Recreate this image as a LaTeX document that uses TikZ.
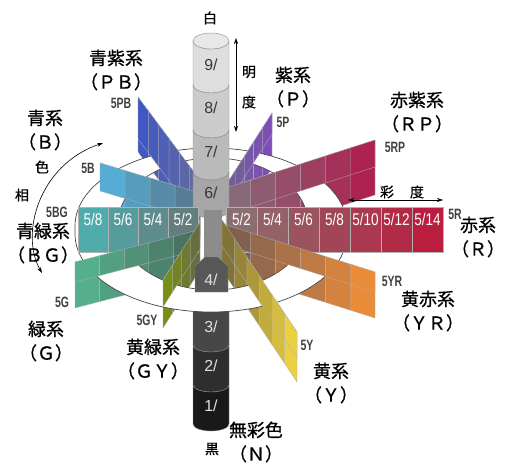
\documentclass[tikz,border=0pt]{standalone}
\usepackage{fontspec}
\usepackage{graphicx}
\setmainfont{Liberation Sans}
\newfontfamily\jpfont{Noto Sans CJK JP}[FakeBold=0.8]
\usetikzlibrary{arrows.meta, calc}
\definecolor{nearP}{RGB}{112,98,150}
\definecolor{farP}{RGB}{125,78,185}
\definecolor{nearPB}{RGB}{98,106,158}
\definecolor{farPB}{RGB}{65,88,196}
\definecolor{nearRP}{RGB}{135,105,120}
\definecolor{farRP}{RGB}{172,35,82}
\definecolor{nearB}{RGB}{88,124,148}
\definecolor{farB}{RGB}{85,172,212}
\definecolor{nearBG}{RGB}{100,125,125}
\definecolor{farBG}{RGB}{80,172,172}
\definecolor{nearG}{RGB}{75,115,100}
\definecolor{farG}{RGB}{85,175,140}
\definecolor{nearGY}{RGB}{105,110,65}
\definecolor{farGY}{RGB}{120,142,20}
\definecolor{nearY}{RGB}{130,115,55}
\definecolor{farY}{RGB}{235,208,65}
\definecolor{nearYR}{RGB}{130,95,80}
\definecolor{farYR}{RGB}{232,140,58}
\definecolor{nearR}{RGB}{140,110,112}
\definecolor{farR}{RGB}{185,30,62}
\definecolor{ringline}{RGB}{70,70,70}
\newcommand{\narrowtxt}[1]{\scalebox{0.8}[1]{#1}}
\newcommand{\slimtxt}[1]{\scalebox{0.7}[1]{#1}}
\newcommand{\huestrip}[8]{%
  \foreach \k in {1,...,#6}{%
    \pgfmathsetmacro{\posA}{(\k-1)/#6}%
    \pgfmathsetmacro{\posB}{\k/#6}%
    \pgfmathsetmacro{\mixpct}{100*(\k-1)/max(#6-1,1)}%
    \filldraw[chip, fill=#8!\mixpct!#7]
      ({#1+(#3-#1)*\posA},{#2+(#4-#2)*\posA}) --
      ({#1+(#3-#1)*\posB},{#2+(#4-#2)*\posB}) --
      ({#1+(#3-#1)*\posB},{#2+(#4-#2)*\posB+#5}) --
      ({#1+(#3-#1)*\posA},{#2+(#4-#2)*\posA+#5}) -- cycle;
  }}

\begin{document}
\begin{tikzpicture}[x=1bp, y=-1bp,
    chip/.style={draw=black!30, line width=0.3pt},
    pole/.style={draw=black!45, line width=0.4pt},
    huelbl/.style={inner sep=0pt, align=center, font=\jpfont\fontsize{18}{24}\selectfont, text=black},
    onechar/.style={inner sep=0pt, font=\jpfont\fontsize{14}{14}\selectfont, text=black},
    code/.style={inner sep=0pt, font=\bfseries\fontsize{15}{15}\selectfont, text=black!75},
    chipnum/.style={inner sep=0pt, font=\fontsize{17}{17}\selectfont, text=white},
    level/.style={inner sep=0pt, font=\fontsize{16}{16}\selectfont},
    dim/.style={{Stealth[length=6pt,width=4pt]}-{Stealth[length=6pt,width=4pt]}, line width=0.6pt}
  ]
  \useasboundingbox (0,0) rectangle (506,465);

  \huestrip{226}{185}{272}{113}{55}{5}{nearP}{farP}
  \huestrip{200}{180}{138}{97}{55}{6}{nearPB}{farPB}
  \huestrip{226}{188}{375}{140}{55}{6}{nearRP}{farRP}
  \huestrip{200}{193}{100}{163}{45}{4}{nearB}{farB}
  \huestrip{198}{230}{75}{262}{46}{5}{nearG}{farG}
  \huestrip{226}{225}{375}{272}{46}{6}{nearYR}{farYR}
  \huestrip{200}{222}{163}{280}{48}{4}{nearGY}{farGY}
  \huestrip{222}{220}{297}{332}{50}{6}{nearY}{farY}

  \foreach \ya/\yb/\shade in {300/345/72, 345/385/82, 385/424/90}
    \filldraw[pole, fill=black!\shade] (193,\ya) -- (193,\yb) arc[start angle=180, end angle=0, x radius=18, y radius=7] -- (229,\ya) arc[start angle=0, end angle=180, x radius=18, y radius=7] -- cycle;

  \filldraw[fill=white, draw=ringline, line width=0.7pt, even odd rule]
    (75,226) arc[start angle=180, end angle=360, x radius=136, y radius=78] -- ++(0,8)
    arc[start angle=0, end angle=180, x radius=136, y radius=78] -- cycle
    (213,224) ellipse[x radius=95, y radius=66];

  \huestrip{226}{185}{272}{113}{21}{5}{nearP}{farP}
  \huestrip{200}{180}{138}{97}{42}{6}{nearPB}{farPB}
  \huestrip{226}{188}{375}{140}{27}{6}{nearRP}{farRP}
  \huestrip{200}{193}{100}{163}{28}{4}{nearB}{farB}

  \foreach \ya/\yb/\shade in {41/85/13, 85/130/20, 130/172/27, 172/210/35}
    \filldraw[pole, fill=black!\shade] (193,\ya) -- (193,\yb) arc[start angle=180, end angle=0, x radius=18, y radius=8] -- (229,\ya) arc[start angle=0, end angle=180, x radius=18, y radius=8] -- cycle;
  \filldraw[pole, fill=black!9] (211,41) ellipse[x radius=18, y radius=8];
  \foreach \v/\y in {9/65, 8/108, 7/152, 6/193}
    \node[level, text=black!78] (v\v) at (211,\y) {\v/};

  \huestrip{198}{207}{78}{207}{45}{4}{nearBG}{farBG}
  \huestrip{226}{207}{443}{207}{45}{7}{nearR}{farR}
  \foreach \k in {1,...,4}
    \node[chipnum] (bg\k) at ({198-30*(\k-0.5)},219) {\narrowtxt{5/\the\numexpr2*\k\relax}};
  \foreach \k in {1,...,7}
    \node[chipnum] (r\k) at ({226+31*(\k-0.5)},219) {\narrowtxt{5/\the\numexpr2*\k\relax}};

  \huestrip{198}{230}{75}{262}{20}{5}{nearG}{farG}
  \huestrip{226}{225}{375}{272}{20}{6}{nearYR}{farYR}
  \huestrip{200}{222}{163}{280}{27}{4}{nearGY}{farGY}
  \huestrip{222}{220}{297}{332}{26}{6}{nearY}{farY}

  \fill[black!45] (204,210) rectangle (222,262);
  \filldraw[pole, fill=black!66] (195,266) -- (205,257) -- (218,257) -- (228,266) -- (228,292) -- (195,292) -- cycle;
  \foreach \v/\y in {4/280, 3/327, 2/366, 1/406}
    \node[level, text=black!12] (v\v) at (211,\y) {\v/};

  \coordinate (vtop) at (236,38);
  \coordinate (vbot) at (236,132);
  \draw[dim] (vtop) -- (vbot);
  \coordinate (cleft) at (348,200);
  \coordinate (cright) at (443,200);
  \draw[dim] (cleft) -- (cright);
  \coordinate (hlow) at (42,273);
  \coordinate (hup) at (103,143);
  \draw[dim] (hlow) .. controls (20,235) and (38,165) .. (hup);

  \node[onechar] (white) at (210,18) {白};
  \node[onechar] (black) at (212,449) {黒};
  \node[onechar] (valA) at (249,72) {明};
  \node[onechar] (valB) at (249,102) {度};
  \node[onechar] (chrA) at (387,192) {彩};
  \node[onechar] (chrB) at (417,192) {度};
  \node[onechar] (hueA) at (42,167) {色};
  \node[onechar] (hueB) at (22,195) {相};

  \node[code] (c5PB) at (121,103) {\slimtxt{5PB}};
  \node[code] (c5B) at (88,168) {\slimtxt{5B}};
  \node[code] (c5BG) at (57,212) {\slimtxt{5BG}};
  \node[code] (c5G) at (62,302) {\slimtxt{5G}};
  \node[code] (c5GY) at (147,320) {\slimtxt{5GY}};
  \node[code] (c5Y) at (307,345) {\slimtxt{5Y}};
  \node[code] (c5YR) at (392,281) {\slimtxt{5YR}};
  \node[code] (c5R) at (455,214) {\slimtxt{5R}};
  \node[code] (c5RP) at (395,147) {\slimtxt{5RP}};
  \node[code] (c5P) at (283,122) {\slimtxt{5P}};

  \node[huelbl] (nPB) at (116,70) {青紫系\\（ＰＢ）};
  \node[huelbl] (nB) at (45,130) {青系\\（Ｂ）};
  \node[huelbl] (nBG) at (43,243) {青緑系\\（ＢＧ）};
  \node[huelbl] (nG) at (46,341) {緑系\\（Ｇ）};
  \node[huelbl] (nGY) at (153,359) {黄緑系\\（ＧＹ）};
  \node[huelbl] (nN) at (256,442) {無彩色\\（Ｎ）};
  \node[huelbl] (nY) at (331,383) {黄系\\（Ｙ）};
  \node[huelbl] (nYR) at (428,311) {黄赤系\\（ＹＲ）};
  \node[huelbl] (nR) at (478,237) {赤系\\（Ｒ）};
  \node[huelbl] (nRP) at (417,112) {赤紫系\\（ＲＰ）};
  \node[huelbl] (nP) at (293,87) {紫系\\（Ｐ）};
\end{tikzpicture}
\end{document}
